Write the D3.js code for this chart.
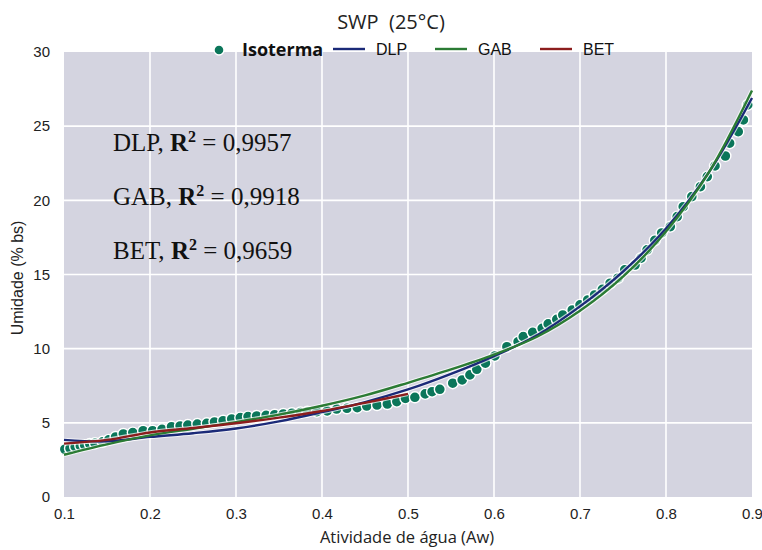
<!DOCTYPE html>
<html>
<head>
<meta charset="utf-8">
<script src="https://cdnjs.cloudflare.com/ajax/libs/d3/7.8.5/d3.min.js"></script>
<style>
  body { margin: 0; background: #fff; }
  .tick text { font-family: "Liberation Sans", Arial, sans-serif; font-size: 15px; fill: #222; }
  .r2 { font-family: "Liberation Serif", "Times New Roman", serif; font-size: 25px; fill: #111; }
</style>
</head>
<body>
<div id="chart"></div>
<script>
// isoterma points
var isoAw = [0.101, 0.107, 0.113, 0.119, 0.124, 0.130, 0.136, 0.145, 0.152, 0.160,
  0.169, 0.180, 0.192, 0.203, 0.214, 0.225, 0.235, 0.244, 0.255, 0.266,
  0.275, 0.285, 0.295, 0.305, 0.314, 0.324, 0.335, 0.345, 0.355, 0.365,
  0.375, 0.383, 0.394, 0.406, 0.417, 0.429, 0.441, 0.452, 0.464, 0.476,
  0.487, 0.497, 0.508, 0.520, 0.528, 0.537, 0.552, 0.563, 0.572, 0.580,
  0.590, 0.601, 0.615, 0.628, 0.634, 0.645, 0.656, 0.663, 0.673, 0.680,
  0.691, 0.700, 0.709, 0.717, 0.726, 0.735, 0.744, 0.752, 0.764, 0.771,
  0.778, 0.787, 0.795, 0.805, 0.813, 0.820, 0.830, 0.840, 0.848, 0.857,
  0.869, 0.874, 0.884, 0.890, 0.895];
var isoUmid = [3.22, 3.28, 3.39, 3.44, 3.50, 3.57, 3.62, 3.72, 3.85, 4.05,
  4.25, 4.34, 4.47, 4.47, 4.56, 4.74, 4.79, 4.85, 4.92, 4.97,
  5.06, 5.14, 5.26, 5.35, 5.42, 5.46, 5.50, 5.55, 5.60, 5.65,
  5.70, 5.75, 5.75, 5.80, 5.93, 5.98, 6.02, 6.13, 6.20, 6.27,
  6.43, 6.65, 6.72, 6.95, 7.10, 7.26, 7.67, 7.89, 8.23, 8.61,
  9.02, 9.51, 10.13, 10.47, 10.81, 11.10, 11.37, 11.67, 11.98, 12.27,
  12.61, 12.95, 13.28, 13.62, 14.00, 14.41, 14.75, 15.31, 15.64, 16.10,
  16.66, 17.30, 17.80, 18.23, 18.90, 19.57, 20.25, 20.92, 21.60, 22.32,
  22.99, 23.85, 24.63, 25.42, 26.43];

// fitted models
var fitAw = [0.10, 0.15, 0.20, 0.25, 0.30, 0.35, 0.40, 0.45, 0.50, 0.55, 0.60, 0.65, 0.70, 0.75, 0.80, 0.85, 0.90];
var dlpUmid = [3.85, 3.75, 4.05, 4.30, 4.62, 5.10, 5.72, 6.40, 7.25, 8.30, 9.50, 10.90, 12.85, 15.20, 18.10, 21.90, 26.90];
var gabUmid = [2.85, 3.55, 4.15, 4.60, 5.05, 5.55, 6.15, 6.85, 7.70, 8.60, 9.60, 10.80, 12.55, 14.85, 17.90, 21.90, 27.40];
var betAw = [0.10, 0.15, 0.20, 0.25, 0.30, 0.35, 0.40, 0.45, 0.50];
var betUmid = [3.60, 3.85, 4.35, 4.65, 4.97, 5.35, 5.80, 6.35, 6.95];

var xTicks = [0.1, 0.2, 0.3, 0.4, 0.5, 0.6, 0.7, 0.8, 0.9];
var yTicks = [0, 5, 10, 15, 20, 25, 30];

var legendNames = ['DLP', 'GAB', 'BET'];
var legendColors = ['#1b2a78', '#2b7b34', '#8c1d1d'];

var svgWidth = 762;
var svgHeight = 550;
var margin = { top: 52, right: 10, bottom: 53, left: 64 };
var width = svgWidth - margin.left - margin.right;
var height = svgHeight - margin.top - margin.bottom;

var svg = d3.select('#chart')
  .append('svg')
  .attr('width', svgWidth)
  .attr('height', svgHeight);

var chartGroup = svg.append('g')
  .attr('transform', `translate(${margin.left}, ${margin.top})`);

var xScale = d3.scaleLinear().domain([0.1, 0.9]).range([0, width]);
var yScale = d3.scaleLinear().domain([0, 30]).range([height, 0]);

// plot background
chartGroup.append('rect')
  .attr('width', width)
  .attr('height', height)
  .attr('fill', '#d4d4e0');

// grid
chartGroup.append('g')
  .selectAll('line')
  .data(xTicks.slice(1, -1))
  .enter()
  .append('line')
  .attr('x1', d => xScale(d))
  .attr('x2', d => xScale(d))
  .attr('y1', 0)
  .attr('y2', height)
  .attr('stroke', '#fff')
  .attr('stroke-width', 1.6);

chartGroup.append('g')
  .selectAll('line')
  .data(yTicks.slice(1, -1))
  .enter()
  .append('line')
  .attr('y1', d => yScale(d))
  .attr('y2', d => yScale(d))
  .attr('x1', 0)
  .attr('x2', width)
  .attr('stroke', '#fff')
  .attr('stroke-width', 1.6);

// axes (no lines, only labels)
var bottomAxis = d3.axisBottom(xScale).tickValues(xTicks).tickSize(0).tickPadding(11)
  .tickFormat(d3.format('.1f'));
var leftAxis = d3.axisLeft(yScale).tickValues(yTicks).tickSize(0).tickPadding(14);

var xAxis = chartGroup.append('g')
  .attr('transform', `translate(0, ${height})`)
  .call(bottomAxis);
xAxis.select('.domain').remove();

var yAxis = chartGroup.append('g')
  .call(leftAxis);
yAxis.select('.domain').remove();

// isoterma points
var isoData = isoAw.map((a, i) => ({ aw: a, m: isoUmid[i] }));
chartGroup.append('g')
  .selectAll('circle')
  .data(isoData)
  .enter()
  .append('circle')
  .attr('cx', d => xScale(d.aw))
  .attr('cy', d => yScale(d.m))
  .attr('r', 5.5)
  .attr('fill', '#0b765a')
  .attr('stroke', '#fff')
  .attr('stroke-width', 1.4);

// model lines
var line = d3.line()
  .x(d => xScale(d[0]))
  .y(d => yScale(d[1]))
  .curve(d3.curveCatmullRom);

var models = [
  d3.zip(fitAw, dlpUmid),
  d3.zip(fitAw, gabUmid),
  d3.zip(betAw, betUmid)
];

models.forEach(function(pts, i) {
  chartGroup.append('path')
    .attr('d', line(pts))
    .attr('fill', 'none')
    .attr('stroke', '#fff')
    .attr('stroke-opacity', 0.7)
    .attr('stroke-width', 4.5);
});
models.forEach(function(pts, i) {
  chartGroup.append('path')
    .attr('d', line(pts))
    .attr('fill', 'none')
    .attr('stroke', legendColors[i])
    .attr('stroke-width', 2.4);
});

// R2 annotations
var r2Names = ['DLP', 'GAB', 'BET'];
var r2Values = ['0,9957', '0,9918', '0,9659'];
var r2Y = [151, 205, 259];

r2Names.forEach(function(n, i) {
  var t = svg.append('text')
    .attr('class', 'r2')
    .attr('x', 113)
    .attr('y', r2Y[i]);
  t.append('tspan').text(n + ', ');
  t.append('tspan').attr('font-weight', 'bold').text('R');
  t.append('tspan').attr('font-weight', 'bold').attr('font-size', '16px').attr('dy', -9).text('2');
  t.append('tspan').attr('dy', 9).text(' = ' + r2Values[i]);
});

// title
svg.append('text')
  .attr('x', 391)
  .attr('y', 29)
  .attr('text-anchor', 'middle')
  .style('white-space', 'pre')
  .attr('font-family', '"Open Sans", sans-serif')
  .attr('font-size', '20px')
  .attr('fill', '#222')
  .text('SWP  (25°C)');

// legend
var legend = svg.append('g');
legend.append('circle')
  .attr('cx', 219)
  .attr('cy', 50)
  .attr('r', 5)
  .attr('fill', '#0b765a')
  .attr('stroke', '#fff')
  .attr('stroke-width', 1.4);
legend.append('text')
  .attr('x', 242)
  .attr('y', 56)
  .attr('font-family', '"Open Sans", sans-serif')
  .attr('font-weight', 'bold')
  .attr('font-size', '18px')
  .attr('fill', '#111')
  .text('Isoterma');

var legendX = [333, 435, 540];
legendNames.forEach(function(n, i) {
  legend.append('line')
    .attr('x1', legendX[i])
    .attr('x2', legendX[i] + 32)
    .attr('y1', 49)
    .attr('y2', 49)
    .attr('stroke', legendColors[i])
    .attr('stroke-width', 2.4);
  legend.append('text')
    .attr('x', legendX[i] + 43)
    .attr('y', 55)
    .attr('font-family', '"Liberation Sans", sans-serif')
    .attr('font-size', '16px')
    .attr('fill', '#111')
    .text(n);
});

// axis labels
svg.append('text')
  .attr('x', 407)
  .attr('y', 543)
  .attr('text-anchor', 'middle')
  .attr('font-family', '"Open Sans", sans-serif')
  .attr('font-size', '16.5px')
  .attr('fill', '#222')
  .text('Atividade de água (Aw)');

svg.append('text')
  .attr('transform', 'translate(23, 278) rotate(-90)')
  .attr('text-anchor', 'middle')
  .attr('font-family', '"Liberation Sans", sans-serif')
  .attr('font-size', '16px')
  .attr('fill', '#222')
  .text('Umidade (% bs)');
</script>
</body>
</html>
